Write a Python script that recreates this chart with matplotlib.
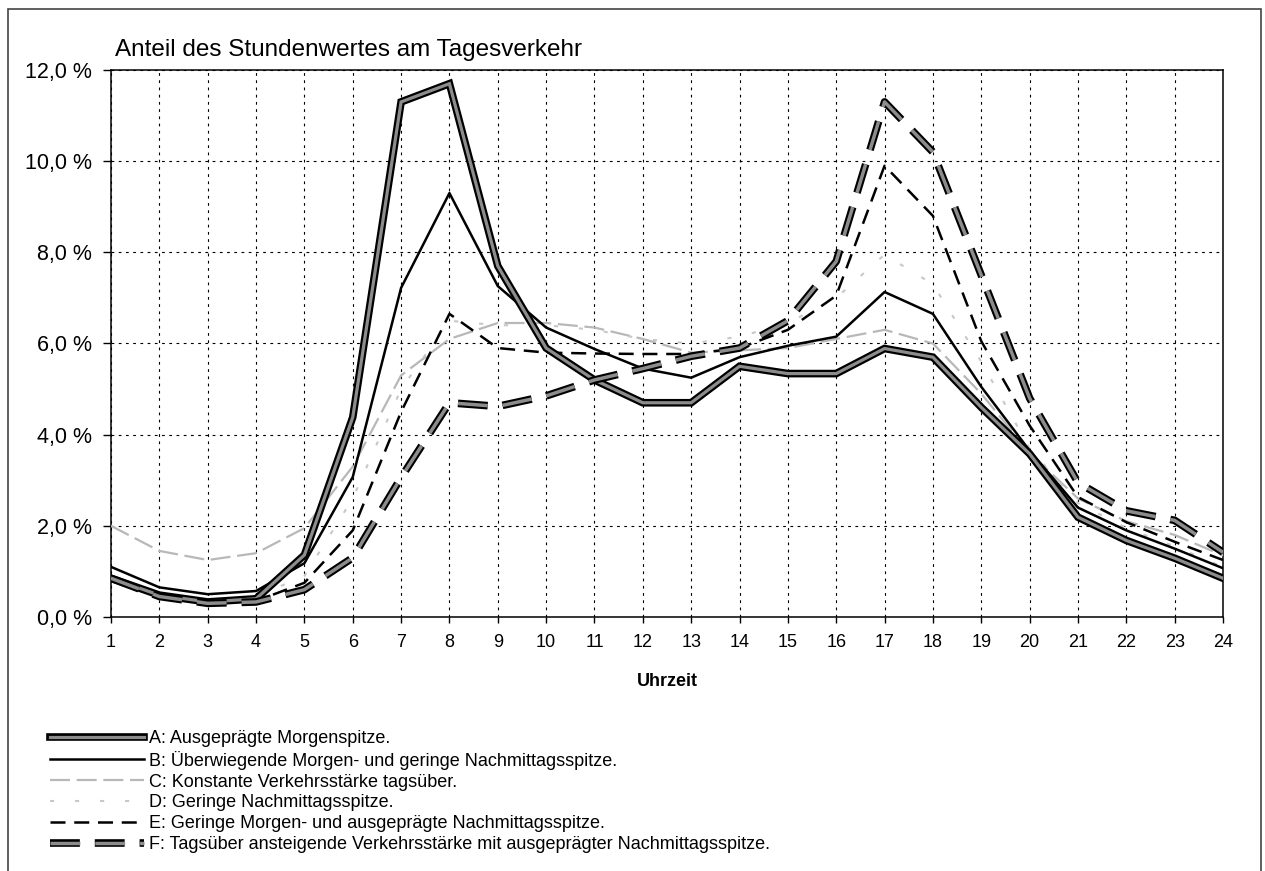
import matplotlib
matplotlib.use("Agg")
import matplotlib.pyplot as plt
import matplotlib.patheffects as pe
from matplotlib.patches import Rectangle
from matplotlib.ticker import FuncFormatter

plt.rcParams["font.family"] = ["Liberation Sans", "DejaVu Sans"]

# ── Data (Anteil am Tagesverkehr in %) ─────────────────────────────
hours = list(range(1, 25))
ganglinie_a = [0.85, 0.48, 0.33, 0.40, 1.36, 4.38, 11.3, 11.7, 7.7, 5.9, 5.2, 4.7,
               4.7, 5.5, 5.34, 5.34, 5.89, 5.7, 4.6, 3.58, 2.19, 1.68, 1.29, 0.85]
ganglinie_b = [1.1, 0.65, 0.5, 0.57, 1.18, 3.07, 7.22, 9.3, 7.26, 6.35, 5.88, 5.45,
               5.25, 5.7, 5.95, 6.15, 7.13, 6.65, 5.05, 3.65, 2.4, 1.9, 1.5, 1.07]
ganglinie_c = [2.0, 1.45, 1.25, 1.4, 1.95, 3.3, 5.3, 6.1, 6.45, 6.45, 6.35, 6.1,
               5.8, 5.85, 5.9, 6.1, 6.3, 6.0, 4.9, 3.6, 2.6, 2.1, 1.8, 1.35]
ganglinie_d = [0.8, 0.45, 0.35, 0.45, 0.9, 2.6, 5.0, 6.5, 6.4, 6.4, 6.3, 6.1,
               6.0, 6.15, 6.45, 7.0, 7.95, 7.3, 5.6, 3.7, 2.5, 1.95, 1.55, 1.1]
ganglinie_e = [0.8, 0.45, 0.3, 0.35, 0.75, 1.9, 4.5, 6.65, 5.9, 5.8, 5.78, 5.77,
               5.77, 5.9, 6.3, 7.05, 9.9, 8.8, 6.05, 4.2, 2.63, 2.08, 1.65, 1.25]
ganglinie_f = [0.85, 0.45, 0.3, 0.33, 0.6, 1.3, 3.06, 4.7, 4.62, 4.85, 5.2, 5.45,
               5.72, 5.9, 6.5, 7.8, 11.3, 10.2, 7.5, 4.8, 2.95, 2.33, 2.12, 1.42]

labels = [
    "A: Ausgeprägte Morgenspitze.",
    "B: Überwiegende Morgen- und geringe Nachmittagsspitze.",
    "C: Konstante Verkehrsstärke tagsüber.",
    "D: Geringe Nachmittagsspitze.",
    "E: Geringe Morgen- und ausgeprägte Nachmittagsspitze.",
    "F: Tagsüber ansteigende Verkehrsstärke mit ausgeprägter Nachmittagsspitze.",
]

# ── Figure ──────────────────────────────────────────────────────────
W, H = 1265, 871
fig = plt.figure(figsize=(W / 100, H / 100), dpi=100)
ax = fig.add_axes([111 / W, 1 - 617 / H, (1223 - 111) / W, (617 - 70) / H])

outline = [pe.Stroke(linewidth=5.5, foreground="black"), pe.Normal()]

ax.plot(hours, ganglinie_a, color="#8c8c8c", lw=2.3, path_effects=outline,
        solid_joinstyle="miter", label=labels[0], zorder=5)
ax.plot(hours, ganglinie_b, color="black", lw=1.8, label=labels[1], zorder=4)
ax.plot(hours, ganglinie_c, color="#b8b8b8", lw=1.6, dashes=(9, 3),
        label=labels[2], zorder=3)
ax.plot(hours, ganglinie_d, color="#c8c8c8", lw=1.5, dashes=(2, 10),
        label=labels[3], zorder=3)
ax.plot(hours, ganglinie_e, color="black", lw=1.8, dashes=(6, 3.5),
        label=labels[4], zorder=4)
ax.plot(hours, ganglinie_f, color="#8c8c8c", lw=2.5, dashes=(8.6, 4.3),
        path_effects=outline, label=labels[5], zorder=5)

# ── Axes formatting ─────────────────────────────────────────────────
ax.set_xlim(1, 24)
ax.set_ylim(0, 12)
ax.set_xticks(hours)
ax.set_yticks(range(0, 13, 2))
ax.yaxis.set_major_formatter(FuncFormatter(lambda v, p: f"{v:.1f} %".replace(".", ",")))
ax.tick_params(axis="both", direction="out", width=1, colors="black")
ax.tick_params(axis="x", length=4.5, pad=7.5, labelsize=13)
ax.tick_params(axis="y", length=6, pad=7.5, labelsize=15.5)
ax.grid(True, color="black", ls=(0, (2.5, 4)), lw=0.8)
for s in ax.spines.values():
    s.set_linewidth(1.1)

fig.text(115 / W, 1 - 50 / H, "Anteil des Stundenwertes am Tagesverkehr",
         fontsize=17.5, va="center", ha="left")
fig.text(667 / W, 1 - 681 / H, "Uhrzeit", fontsize=13, fontweight="bold",
         ha="center", va="center")

handles, labs = ax.get_legend_handles_labels()
fig.legend(handles, labs, loc="upper left", bbox_to_anchor=(50 / W, 1 - 730 / H),
           frameon=False, handlelength=5.2, handletextpad=0.3, labelspacing=0.21,
           fontsize=13, borderaxespad=0, borderpad=0)

# outer frame of the chart
fig.patches.append(Rectangle((8 / W, -0.05), (1261 - 8) / W, 0.05 + (871 - 9) / H,
                             transform=fig.transFigure, fill=False,
                             ec="#444444", lw=1.2))

fig.savefig("out.png", dpi=100)
